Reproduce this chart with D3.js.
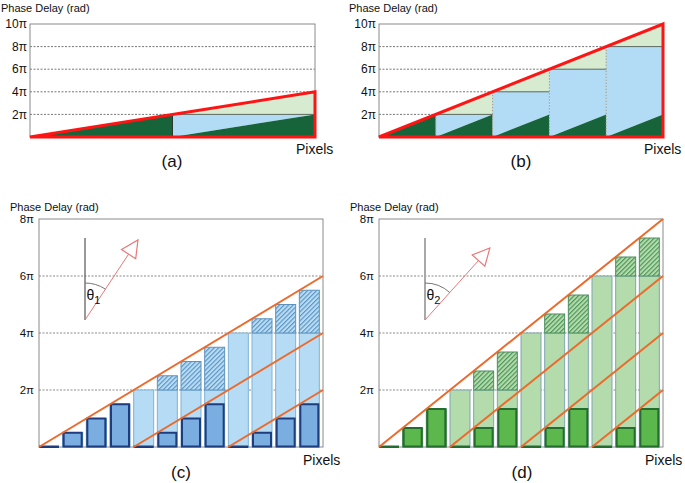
<!DOCTYPE html>
<html><head><meta charset="utf-8">
<script src="https://cdn.jsdelivr.net/npm/d3@7"></script>
<style>
body{margin:0;background:#fff}
svg{display:block}
text{font-family:Arial,"Liberation Sans",Helvetica,sans-serif;fill:#111}
</style>
</head><body>
<svg id="chart" width="685" height="483"></svg>
<script>
// ---------- DATA (phase values in units of π) ----------
const yTitle = "Phase Delay (rad)";
const xTitle = "Pixels";
const panelLabels = ["(a)", "(b)", "(c)", "(d)"];

const ticksAB = [2, 4, 6, 8, 10];
const tickLabelsAB = ["2π", "4π", "6π", "8π", "10π"];
const ticksCD = [2, 4, 6, 8];
const tickLabelsCD = ["2π", "4π", "6π", "8π"];

const wrapMax = 2; // 2π wrap
// panel (a): 2 segments, phase at start of each segment
const segStartA = [0, 2];
// panel (b): 5 segments
const segStartB = [0, 2, 4, 6, 8];

// panel (c): 12 pixels, ramp 0.5π per pixel
const barsTotalC   = [0, 0.5, 1, 1.5, 2, 2.5, 3, 3.5, 4, 4.5, 5, 5.5];
const barsWrappedC = [0, 0.5, 1, 1.5, 0, 0.5, 1, 1.5, 0, 0.5, 1, 1.5];
const barsLevelC   = [0, 0, 0, 0, 2, 2, 2, 2, 4, 4, 4, 4];
const rampStartC = [0, 4, 8];
const rampEndC   = [6, 4, 2];

// panel (d): 12 pixels, ramp 2π/3 per pixel
const barsTotalD   = [0, 0.667, 1.333, 2, 2.667, 3.333, 4, 4.667, 5.333, 6, 6.667, 7.333];
const barsWrappedD = [0, 0.667, 1.333, 0, 0.667, 1.333, 0, 0.667, 1.333, 0, 0.667, 1.333];
const barsLevelD   = [0, 0, 0, 2, 2, 2, 4, 4, 4, 6, 6, 6];
const rampStartD = [0, 3, 6, 9];
const rampEndD   = [8, 6, 4, 2];

const thetaLabels = ["1", "2"];
const thetaAnglesDeg = [33.5, 42];

// ---------- DRAWING ----------
const svg = d3.select("#chart");
const defs = svg.append("defs");
function hatch(id, bg, fg) {
  const p = defs.append("pattern").attr("id", id).attr("patternUnits", "userSpaceOnUse")
    .attr("width", 3.2).attr("height", 3.2).attr("patternTransform", "rotate(45)");
  p.append("rect").attr("width", 3.2).attr("height", 3.2).attr("fill", bg);
  p.append("line").attr("x1", 0.6).attr("y1", 0).attr("x2", 0.6).attr("y2", 3.2)
    .attr("stroke", fg).attr("stroke-width", 1);
}
hatch("hatchBlue", "#b8ddf4", "#4f88bd");
hatch("hatchGreen", "#b3dbab", "#3c8a4c");

function frameAndTicks(g, x0, x1, y, ticks, labels, labelOff, fontSize, gridColor, dash) {
  g.append("g").selectAll("line").data(ticks.slice(0, -1)).join("line")
    .attr("x1", x0).attr("x2", x1).attr("y1", d => y(d)).attr("y2", d => y(d))
    .attr("stroke", gridColor).attr("stroke-width", 1).attr("stroke-dasharray", dash);
  const [yb, yt] = y.range();
  g.append("rect").attr("x", x0).attr("y", yt).attr("width", x1 - x0).attr("height", yb - yt)
    .attr("fill", "none").attr("stroke", "#8a8a8a").attr("stroke-width", 1);
  g.append("g").selectAll("text").data(ticks).join("text")
    .attr("x", x0 - labelOff).attr("y", d => y(d)).attr("dy", "0.35em")
    .attr("text-anchor", "end").attr("font-size", fontSize)
    .text((d, i) => labels[i]);
}

function rampPanel(cfg) {
  const g = svg.append("g");
  const n = cfg.starts.length;
  const x = d3.scaleLinear().domain([0, n]).range([cfg.x0, cfg.x1]);
  const y = d3.scaleLinear().domain([0, 10]).range([cfg.yb, cfg.yt]);
  frameAndTicks(g, cfg.x0, cfg.x1, y, ticksAB, tickLabelsAB, 3, 12, "#777", "2,1.5");
  const line = d3.line().x(d => x(d[0])).y(d => y(d[1]));
  const fills = g.append("g");
  cfg.starts.forEach((L, i) => {
    if (L > 0) {
      fills.append("path").attr("d", line([[i, 0], [i, L], [i + 1, L], [i + 1, wrapMax]]) + "Z")
        .attr("fill", "#b2dcf6");
      fills.append("path").attr("d", line([[i, L], [i + 1, L + wrapMax], [i + 1, L]]) + "Z")
        .attr("fill", "#d6ebd0");
    }
    fills.append("path").attr("d", line([[i, 0], [i + 1, wrapMax], [i + 1, 0]]) + "Z")
      .attr("fill", "#17643a");
  });
  cfg.starts.forEach((L, i) => {
    if (L > 0) {
      fills.append("line").attr("x1", x(i)).attr("x2", x(i + 1)).attr("y1", y(L)).attr("y2", y(L))
        .attr("stroke", "#5d6a60").attr("stroke-width", 1);
      fills.append("line").attr("x1", x(i)).attr("x2", x(i)).attr("y1", y(L)).attr("y2", y(0))
        .attr("stroke", cfg.sepColor).attr("stroke-width", 1)
        .attr("stroke-dasharray", cfg.sepDash);
    }
  });
  const total = cfg.starts[n - 1] + wrapMax;
  g.append("path").attr("d", line([[0, 0], [n, total], [n, 0]]) + "Z")
    .attr("fill", "none").attr("stroke", "#ff1414").attr("stroke-width", 3)
    .attr("stroke-linejoin", "miter");
  g.append("text").attr("x", cfg.titleX).attr("y", 12).attr("font-size", 11).text(yTitle);
  g.append("text").attr("x", cfg.pixX).attr("y", 154).attr("font-size", 14).text(xTitle);
  g.append("text").attr("x", cfg.labX).attr("y", 167).attr("font-size", 17)
    .attr("text-anchor", "middle").text(cfg.label);
}

function barPanel(cfg) {
  const g = svg.append("g");
  const n = cfg.total.length;
  const x = d3.scaleLinear().domain([0, n]).range([cfg.x0, cfg.x1]);
  const y = d3.scaleLinear().domain([0, 8]).range([cfg.yb, cfg.yt]);
  frameAndTicks(g, cfg.x0, cfg.x1, y, ticksCD, tickLabelsCD, 5, 11.5, "#8a8a8a", "2,1.5");
  const bw = (x(1) - x(0)) * 0.845;
  const idx = d3.range(n);
  g.append("g").selectAll("rect").data(idx.filter(k => cfg.level[k] > 0)).join("rect")
    .attr("x", k => x(k)).attr("width", bw)
    .attr("y", k => y(cfg.level[k])).attr("height", k => y(0) - y(cfg.level[k]))
    .attr("fill", cfg.light).attr("stroke", cfg.lightStroke).attr("stroke-width", 1);
  g.append("g").selectAll("rect").data(idx.filter(k => cfg.total[k] > cfg.level[k] + 0.01)).join("rect")
    .attr("x", k => x(k)).attr("width", bw)
    .attr("y", k => y(cfg.total[k])).attr("height", k => y(cfg.level[k]) - y(cfg.total[k]))
    .attr("fill", cfg.hatch).attr("stroke", cfg.hatchStroke).attr("stroke-width", 1);
  g.append("g").selectAll("path").data(idx).join("path")
    .attr("d", k => `M${x(k) + 1},${y(0) - 0.5}V${y(cfg.wrapped[k])}H${x(k) + bw - 1}V${y(0) - 0.5}Z`)
    .attr("fill", cfg.dark).attr("stroke", cfg.darkStroke).attr("stroke-width", 2);
  g.append("g").selectAll("line").data(cfg.rampStart).join("line")
    .attr("x1", d => x(d)).attr("y1", y(0))
    .attr("x2", x(n)).attr("y2", (d, i) => y(cfg.rampEnd[i]))
    .attr("stroke", "#ec6a2c").attr("stroke-width", 2);
  // angle annotation
  const bx = cfg.angX, by = 320, top = 238;
  g.append("line").attr("x1", bx).attr("x2", bx).attr("y1", top).attr("y2", by)
    .attr("stroke", cfg.vColor).attr("stroke-width", cfg.vWidth);
  const a = cfg.angle * Math.PI / 180;
  const ux = Math.sin(a), uy = -Math.cos(a);
  const tip = [bx + cfg.arrowLen * ux, by + cfg.arrowLen * uy];
  const hl = 17, hw = 8.5;
  const hb = [tip[0] - hl * ux, tip[1] - hl * uy];
  g.append("line").attr("x1", bx).attr("y1", by).attr("x2", hb[0]).attr("y2", hb[1])
    .attr("stroke", "#e87878").attr("stroke-width", 1);
  g.append("path").attr("d", `M${tip[0]},${tip[1]}L${hb[0] - hw * uy},${hb[1] + hw * ux}L${hb[0] + hw * uy},${hb[1] - hw * ux}Z`)
    .attr("fill", "#fff").attr("stroke", "#e87878").attr("stroke-width", 1.2);
  const r = 37;
  g.append("path").attr("d", `M${bx},${by - r}A${r},${r} 0 0 1 ${bx + r * ux},${by + r * uy}`)
    .attr("fill", "none").attr("stroke", "#777").attr("stroke-width", 1);
  const t = g.append("text").attr("x", bx + 1.5).attr("y", 300).attr("font-size", 14).text("θ");
  t.append("tspan").attr("font-size", 11).attr("dy", 4).text(cfg.sub);
  g.append("text").attr("x", cfg.titleX).attr("y", 211).attr("font-size", 11).text(yTitle);
  g.append("text").attr("x", cfg.pixX).attr("y", 465).attr("font-size", 14).text(xTitle);
  g.append("text").attr("x", cfg.labX).attr("y", 478).attr("font-size", 17)
    .attr("text-anchor", "middle").text(cfg.label);
}

rampPanel({starts: segStartA, x0: 30, x1: 315, yt: 24, yb: 137, sepColor: "#2a3a30", sepDash: null,
  titleX: 1, pixX: 296, labX: 172, label: panelLabels[0]});
rampPanel({starts: segStartB, x0: 379, x1: 663, yt: 24, yb: 137, sepColor: "#a09a88", sepDash: "1.5,1.5",
  titleX: 349, pixX: 644, labX: 521, label: panelLabels[1]});

barPanel({total: barsTotalC, wrapped: barsWrappedC, level: barsLevelC, rampStart: rampStartC, rampEnd: rampEndC,
  x0: 39, x1: 323, yt: 219, yb: 447,
  light: "#b5dcf4", lightStroke: "#7fb2d6", hatch: "url(#hatchBlue)", hatchStroke: "#5d92bf",
  dark: "#7aaee0", darkStroke: "#1d3d7e",
  angX: 85, angle: thetaAnglesDeg[0], arrowLen: 96, vColor: "#555", vWidth: 1.2, sub: thetaLabels[0],
  titleX: 10, pixX: 303, labX: 181, label: panelLabels[2]});
barPanel({total: barsTotalD, wrapped: barsWrappedD, level: barsLevelD, rampStart: rampStartD, rampEnd: rampEndD,
  x0: 379, x1: 663, yt: 219, yb: 447,
  light: "#b3dbab", lightStroke: "#80a6b4", hatch: "url(#hatchGreen)", hatchStroke: "#4d8e60",
  dark: "#5cb84c", darkStroke: "#246c2f",
  angX: 425, angle: thetaAnglesDeg[1], arrowLen: 97, vColor: "#a8a8a8", vWidth: 2, sub: thetaLabels[1],
  titleX: 350, pixX: 645, labX: 522, label: panelLabels[3]});
</script>
</body></html>
